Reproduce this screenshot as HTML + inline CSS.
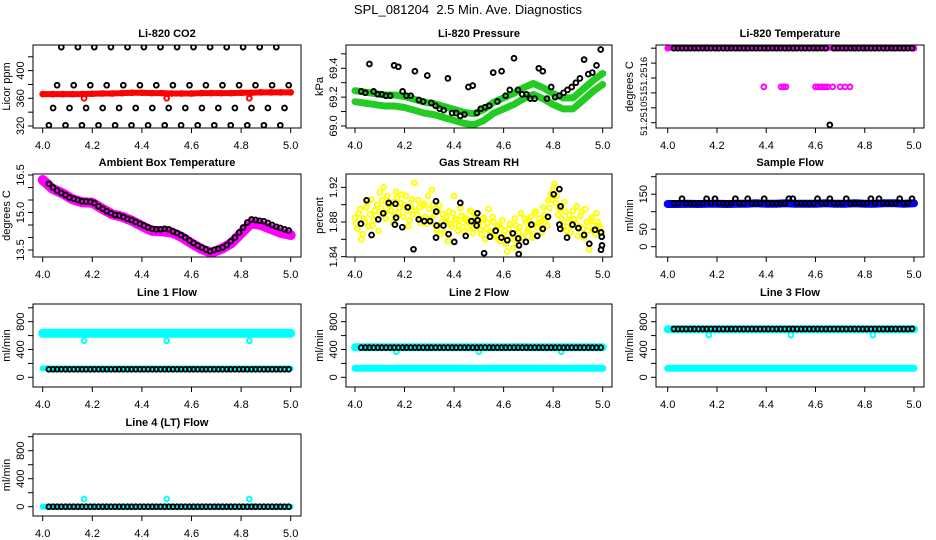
<!DOCTYPE html>
<html><head><meta charset="utf-8">
<style>
html,body{margin:0;padding:0;background:#fff;}
svg{display:block;font-family:"Liberation Sans",Arial,sans-serif;}
</style></head>
<body>
<svg id="chart" width="936" height="540" viewBox="0 0 936 540">
<text x="468" y="14" text-anchor="middle" font-size="13" style="white-space:pre">SPL_081204  2.5 Min. Ave. Diagnostics</text>
</svg>
<script>
// ---------- data ----------
const xTicks = [4.0, 4.2, 4.4, 4.6, 4.8, 5.0];
const xTickLabels = ["4.0", "4.2", "4.4", "4.6", "4.8", "5.0"];
const denseT = [4.0,4.04,4.08,4.12,4.16,4.2,4.24,4.28,4.32,4.36,4.4,4.44,4.48,4.52,4.56,4.6,4.64,4.68,4.72,4.76,4.8,4.84,4.88,4.92,4.96,5.0];
const blackT = [4.025,4.042,4.058,4.075,4.092,4.108,4.125,4.142,4.158,4.175,4.192,4.208,4.225,4.242,4.258,4.275,4.292,4.308,4.325,4.342,4.358,4.375,4.392,4.408,4.425,4.442,4.458,4.475,4.492,4.508,4.525,4.542,4.558,4.575,4.592,4.608,4.625,4.642,4.658,4.675,4.692,4.708,4.725,4.742,4.758,4.775,4.792,4.808,4.825,4.842,4.858,4.875,4.892,4.908,4.925,4.942,4.958,4.975,4.992];
const outT = [4.167, 4.5, 4.833];

// CO2
const co2Red = [366,366,366,366,366,366.5,367,367,367.5,368,368,367.5,367.5,367,367,367,367.5,367.5,367.5,367.5,368,368,368.5,368.5,368.5,368.5];
const co2RedOut = [360,360,360];
const co2Black = [321,346,379,434,321,346,379,434,321,346,379,434,321,346,379,434,321,346,379,434,321,346,379,434,321,346,379,434,321,346,379,434,321,346,379,434,321,346,379,434,321,346,379,434,321,346,379,434,321,346,379,434,321,346,379,434,321,346,379];
// Pressure
const presGreen = [69.21,69.2,69.19,69.18,69.18,69.17,69.15,69.13,69.12,69.1,69.08,69.06,69.05,69.08,69.13,69.16,69.19,69.23,69.26,69.23,69.19,69.16,69.16,69.22,69.28,69.33];
const presBlack = [69.24,69.23,69.43,69.24,69.22,69.22,69.21,69.21,69.42,69.41,69.24,69.21,69.21,69.38,69.18,69.17,69.35,69.16,69.14,69.12,69.11,69.33,69.09,69.09,69.07,69.08,69.27,69.28,69.09,69.12,69.13,69.14,69.37,69.17,69.38,69.21,69.25,69.47,69.25,69.22,69.22,69.19,69.19,69.4,69.38,69.19,69.27,69.2,69.21,69.23,69.25,69.27,69.3,69.33,69.46,69.36,69.37,69.42,69.53];
// Temperature
const tempMagenta = [51.252,51.252,51.252,51.252,51.252,51.252,51.252,51.252,51.252,51.252,51.252,51.252,51.252,51.252,51.252,51.252,51.252,51.252,51.252,51.252,51.252,51.252,51.252,51.252,51.252,51.252];
const tempLowT = [4.39,4.46,4.47,4.48,4.60,4.61,4.62,4.63,4.64,4.65,4.67,4.70,4.72,4.74];
const tempLowV = [51.25148,51.25148,51.25148,51.25148,51.25148,51.25148,51.25148,51.25148,51.25148,51.25148,51.25148,51.25148,51.25148,51.25148];
const tempBlack = [51.252,51.252,51.252,51.252,51.252,51.252,51.252,51.252,51.252,51.252,51.252,51.252,51.252,51.252,51.252,51.252,51.252,51.252,51.252,51.252,51.252,51.252,51.252,51.252,51.252,51.252,51.252,51.252,51.252,51.252,51.252,51.252,51.252,51.252,51.252,51.252,51.252,51.252,51.25097,51.252,51.252,51.252,51.252,51.252,51.252,51.252,51.252,51.252,51.252,51.252,51.252,51.252,51.252,51.252,51.252,51.252,51.252,51.252,51.252];
// Ambient
const ambMagenta = [16.3,15.95,15.77,15.53,15.41,15.39,15.15,14.93,14.83,14.67,14.46,14.27,14.25,14.2,14.02,13.77,13.54,13.39,13.54,13.77,14.17,14.57,14.5,14.34,14.19,14.1];
const ambBlack = [16.15,16.0,15.88,15.78,15.7,15.6,15.55,15.5,15.45,15.44,15.43,15.38,15.25,15.15,15.05,14.97,14.9,14.88,14.82,14.75,14.7,14.62,14.55,14.48,14.4,14.35,14.33,14.33,14.35,14.33,14.25,14.18,14.1,14.0,13.88,13.78,13.68,13.6,13.52,13.45,13.5,13.55,13.6,13.7,13.85,14.0,14.2,14.4,14.6,14.72,14.7,14.67,14.65,14.58,14.5,14.43,14.38,14.33,14.28];
// RH
const rhT = [4.00,4.01,4.02,4.03,4.04,4.05,4.06,4.07,4.08,4.09,4.10,4.11,4.12,4.13,4.14,4.15,4.16,4.17,4.18,4.19,4.20,4.21,4.22,4.23,4.24,4.25,4.26,4.27,4.28,4.29,4.30,4.31,4.32,4.33,4.34,4.35,4.36,4.37,4.38,4.39,4.40,4.41,4.42,4.43,4.44,4.45,4.46,4.47,4.48,4.49,4.50,4.51,4.52,4.53,4.54,4.55,4.56,4.57,4.58,4.59,4.60,4.61,4.62,4.63,4.64,4.65,4.66,4.67,4.68,4.69,4.70,4.71,4.72,4.73,4.74,4.75,4.76,4.77,4.78,4.79,4.80,4.81,4.82,4.83,4.84,4.85,4.86,4.87,4.88,4.89,4.90,4.91,4.92,4.93,4.94,4.95,4.96,4.97,4.98,4.99];
const rhYellowA = [1.885,1.872,1.895,1.866,1.880,1.902,1.889,1.876,1.893,1.900,1.914,1.905,1.891,1.910,1.898,1.903,1.887,1.908,1.896,1.912,1.900,1.893,1.882,1.906,1.925,1.889,1.897,1.884,1.901,1.878,1.895,1.917,1.888,1.871,1.899,1.880,1.868,1.885,1.892,1.875,1.910,1.883,1.876,1.887,1.869,1.884,1.880,1.892,1.874,1.889,1.878,1.866,1.885,1.872,1.895,1.869,1.880,1.862,1.876,1.873,1.865,1.855,1.872,1.861,1.850,1.876,1.868,1.890,1.862,1.880,1.872,1.886,1.866,1.892,1.878,1.880,1.897,1.884,1.905,1.912,1.918,1.902,1.888,1.897,1.875,1.892,1.880,1.868,1.893,1.879,1.864,1.887,1.873,1.895,1.870,1.882,1.876,1.866,1.880,1.872];
const rhYellowB = [1.878,1.890,1.860,1.884,1.897,1.875,1.906,1.882,1.888,1.870,1.896,1.920,1.884,1.900,1.893,1.880,1.915,1.891,1.902,1.886,1.910,1.875,1.898,1.889,1.893,1.905,1.879,1.899,1.886,1.910,1.884,1.900,1.876,1.893,1.866,1.889,1.881,1.858,1.878,1.890,1.883,1.870,1.896,1.879,1.885,1.873,1.893,1.867,1.886,1.879,1.871,1.883,1.860,1.879,1.868,1.886,1.864,1.875,1.858,1.882,1.870,1.846,1.878,1.866,1.884,1.858,1.874,1.862,1.884,1.869,1.880,1.862,1.890,1.874,1.884,1.868,1.888,1.876,1.896,1.906,1.924,1.910,1.895,1.884,1.903,1.870,1.888,1.876,1.883,1.898,1.875,1.892,1.862,1.880,1.848,1.885,1.870,1.890,1.876,1.868];
const rhBlackT = [4.024,4.047,4.067,4.094,4.114,4.136,4.163,4.166,4.161,4.191,4.213,4.236,4.257,4.280,4.303,4.327,4.328,4.330,4.327,4.357,4.378,4.401,4.425,4.447,4.470,4.494,4.495,4.491,4.521,4.545,4.568,4.591,4.615,4.637,4.659,4.662,4.661,4.690,4.712,4.736,4.758,4.779,4.802,4.825,4.830,4.825,4.829,4.856,4.878,4.902,4.925,4.946,4.969,4.993,4.996,4.997,4.993];
const rhBlackV = [1.878,1.905,1.865,1.883,1.890,1.902,1.901,1.885,1.877,1.874,1.897,1.8485,1.883,1.881,1.881,1.904,1.892,1.876,1.862,1.876,1.866,1.857,1.902,1.864,1.881,1.890,1.882,1.876,1.844,1.863,1.870,1.862,1.859,1.867,1.861,1.853,1.843,1.857,1.877,1.864,1.872,1.886,1.912,1.918,1.898,1.877,1.872,1.862,1.877,1.873,1.865,1.855,1.871,1.868,1.863,1.853,1.848];
// Sample flow
const sampleBlue = [122,122,123,122,123,123,122,123,123,124,123,123,124,123,123,123,124,123,123,124,123,123,124,124,123,124];
const sampleBlack = [124,124,137,124,124,124,124,124,137,124,137,124,124,124,124,137,124,124,137,124,124,124,137,124,124,124,124,124,137,137,124,124,124,124,124,137,124,124,137,124,124,124,137,124,124,124,124,124,137,124,137,124,124,124,124,137,124,124,137];
// Line flows
const line1Upper = [633,633,635,633,633,633,633,633,633,633,633,633,633,633,633,633,633,633,633,633,633,633,633,633,633,633];
const line1Lower = [128,128,128,128,128,128,128,128,128,128,128,128,128,128,128,128,128,128,128,128,128,128,128,128,128,128];
const line1Out = [527,527,527];
const line1Black = [115,115,115,115,115,115,115,115,115,115,115,115,115,115,115,115,115,115,115,115,115,115,115,115,115,115,115,115,115,115,115,115,115,115,115,115,115,115,115,115,115,115,115,115,115,115,115,115,115,115,115,115,115,115,115,115,115,115,115];
const line2Upper = [432,432,435,432,432,432,432,432,432,432,432,432,432,432,432,432,435,435,432,432,432,432,432,432,432,432];
const line2Lower = [130,130,130,130,130,130,130,130,130,130,130,130,130,130,130,130,130,130,130,130,130,130,130,130,130,130];
const line2Out = [368,368,368];
const line2Black = [428,428,428,428,428,428,428,428,428,428,428,428,428,428,428,428,428,428,428,428,428,428,428,428,428,428,428,428,428,428,428,428,428,428,428,428,428,428,428,428,428,428,428,428,428,428,428,428,428,428,428,428,428,428,428,428,428,428,428];
const line3Upper = [690,690,692,692,692,692,692,692,692,692,692,692,692,692,692,692,692,692,692,692,692,692,692,692,692,692];
const line3Lower = [130,130,130,130,130,130,130,130,130,130,130,130,130,130,130,130,130,130,130,130,130,130,130,130,130,130];
const line3Out = [608,608,608];
const line3Black = [695,695,695,695,695,695,695,695,695,695,695,695,695,695,695,695,695,695,695,695,695,695,695,695,695,695,695,695,695,695,695,695,695,695,695,695,695,695,695,695,695,695,695,695,695,695,695,695,695,695,695,695,695,695,695,695,695,695,698];
const line4Cyan = [0,0,0,0,0,0,0,0,0,0,0,0,0,0,0,0,0,0,0,0,0,0,0,0,0,0];
const line4Out = [110,110,110];
const line4Black = [0,0,0,0,0,0,0,0,0,0,0,0,0,0,0,0,0,0,0,0,0,0,0,0,0,0,0,0,0,0,0,0,0,0,0,0,0,0,0,0,0,0,0,0,0,0,0,0,0,0,0,0,0,0,0,0,0,0,0];

// ---------- drawing ----------
const NS = "http://www.w3.org/2000/svg";
const svg = document.getElementById("chart");
const COLS = [{l:33,r:301,x0:42.7,x1:290.7},{l:346,r:612,x0:355,x1:602.7},{l:656,r:924,x0:667.7,x1:914}];
const ROWS = [{t:45,b:128},{t:174,b:257},{t:304,b:387},{t:434,b:516}];

function mk(tag, attrs, parent) {
  const e = document.createElementNS(NS, tag);
  for (const k in attrs) e.setAttribute(k, attrs[k]);
  (parent || svg).appendChild(e);
  return e;
}

function makePanel(name, col, row, title, ylab, yLo, yHi, yTicks, yLabels, labelShift, labelSize) {
  const c = COLS[col], r = ROWS[row];
  const g = mk("g", {});
  
  
  const sx = v => c.x0 + (v - 4) * (c.x1 - c.x0);
  const sy = v => r.b - (v - yLo) / (yHi - yLo) * (r.b - r.t);
  const clipId = "clip-" + name;
  const cp = mk("clipPath", {id: clipId}, g);
  mk("rect", {x: c.l, y: r.t, width: c.r - c.l, height: r.b - r.t}, cp);
  const plot = mk("g", {"clip-path": "url(#" + clipId + ")"}, g);
  
  
  const box = mk("rect", {x: c.l, y: r.t, width: c.r - c.l, height: r.b - r.t, fill: "none", stroke: "#000", "stroke-width": 1}, g);
  
  
  const t = mk("text", {x: (c.l + c.r) / 2, y: r.t - 8, "text-anchor": "middle", "font-size": 11, "font-weight": "bold"}, g);
  t.textContent = title;
  
  
  const yl = mk("text", {x: 0, y: 0, transform: "translate(" + (c.l - 23) + "," + ((r.t + r.b) / 2) + ") rotate(-90)", "text-anchor": "middle", "font-size": 11}, g);
  yl.textContent = ylab;
  
  
  const xa = mk("g", {}, g);
  
  
  xTicks.forEach((v, i) => {
    const x = sx(v);
    mk("line", {x1: x, x2: x, y1: r.b, y2: r.b + 5, stroke: "#000"}, xa);
    const tl = mk("text", {x: x, y: r.b + 21, "text-anchor": "middle", "font-size": 11}, xa);
    tl.textContent = xTickLabels[i];
    
    
  });
  const ya = mk("g", {}, g);
  
  
  yTicks.forEach((v, i) => {
    const y = sy(v);
    mk("line", {x1: c.l - 5, x2: c.l, y1: y, y2: y, stroke: "#000"}, ya);
    if (yLabels[i]) {
      const ly = y + (labelShift ? labelShift[i] : 0);
      const tl = mk("text", {x: 0, y: 0, transform: "translate(" + (c.l - 9) + "," + ly + ") rotate(-90)", "text-anchor": "middle", "font-size": labelSize || 11}, ya);
      tl.textContent = yLabels[i];
      
      
    }
  });
  return {plot, sx, sy, name};
}

function band(p, ts, vs, color, width, offPx) {
  const pts = ts.map((t, i) => p.sx(t).toFixed(1) + "," + (p.sy(vs[i]) + (offPx || 0)).toFixed(1)).join(" ");
  const pl = mk("polyline", {points: pts, fill: "none", stroke: color, "stroke-width": width, "stroke-linejoin": "round", "stroke-linecap": "round"}, p.plot);
  
  
}
function points(p, ts, vs, color, label) {
  const g = mk("g", {fill: "none", stroke: color, "stroke-width": 1.9}, p.plot);
  
  
  ts.forEach((t, i) => {
    const c = mk("circle", {cx: p.sx(t).toFixed(1), cy: p.sy(vs[i]).toFixed(1), r: 2.4}, g);
    
    
  });
}

const RED = "#ff0000", GREEN = "#22cc22", MAG = "#ff00ff", YEL = "#ffff00", BLUE = "#0000ff", CYAN = "#00ffff", BLK = "#000";

let p = makePanel("co2", 0, 0, "Li-820 CO2", "Licor ppm", 317.1, 437, [320,340,360,380,400,420], ["320","","360","","400",""]);
band(p, denseT, co2Red, RED, 6);
points(p, denseT, co2Red, RED, "red-points");
points(p, outT, co2RedOut, RED, "red-outliers");
points(p, blackT, co2Black, BLK, "black-points");

p = makePanel("pressure", 1, 0, "Li-820 Pressure", "kPa", 68.986, 69.5615, [69.0,69.1,69.2,69.3,69.4,69.5], ["69.0","","69.2","","69.4",""]);
band(p, denseT, presGreen, GREEN, 7, -5);
band(p, denseT, presGreen, GREEN, 7, 6);
points(p, blackT, presBlack, BLK, "black-points");

p = makePanel("temperature", 2, 0, "Li-820 Temperature", "degrees C", 51.250929, 51.252043, [51.2510,51.2512,51.2514,51.2516,51.2518,51.2520], ["51.2510","","51","51.2516","",""], [-4,0,3,-4,0,0], 9.5);
band(p, denseT, tempMagenta, MAG, 5);
points(p, denseT, tempMagenta, MAG, "magenta-points");
points(p, tempLowT, tempLowV, MAG, "magenta-low-points");
points(p, blackT, tempBlack, BLK, "black-points");

p = makePanel("ambient", 0, 1, "Ambient Box Temperature", "degrees C", 13.22, 16.54, [13.5,14.0,14.5,15.0,15.5,16.0,16.5], ["13.5","","","15.0","","","16.5"]);
band(p, denseT, ambMagenta, MAG, 10);
points(p, blackT, ambBlack, BLK, "black-points");

p = makePanel("rh", 1, 1, "Gas Stream RH", "percent", 1.8396, 1.9354, [1.84,1.86,1.88,1.90,1.92], ["1.84","","1.88","","1.92"]);
points(p, rhT, rhYellowA, YEL, "yellow-points-a");
points(p, rhT.map(t => t + 0.005), rhYellowB, YEL, "yellow-points-b");
points(p, rhBlackT, rhBlackV, BLK, "black-points");

p = makePanel("sample-flow", 2, 1, "Sample Flow", "ml/min", -29.4, 207.7, [0,50,100,150,200], ["0","50","","150",""]);
band(p, denseT, sampleBlue, BLUE, 8);
points(p, blackT, sampleBlack, BLK, "black-points");

const flowTicks = [0,200,400,600,800,1000], flowLabels = ["0","","400","","800",""];
p = makePanel("line1-flow", 0, 2, "Line 1 Flow", "ml/min", -139.6, 1054.7, flowTicks, flowLabels);
band(p, denseT, line1Upper, CYAN, 9);
band(p, denseT, line1Lower, CYAN, 6);
points(p, outT, line1Out, CYAN, "cyan-outliers");
points(p, blackT, line1Black, BLK, "black-points");

p = makePanel("line2-flow", 1, 2, "Line 2 Flow", "ml/min", -139.6, 1054.7, flowTicks, flowLabels);
band(p, denseT, line2Upper, CYAN, 8);
band(p, denseT, line2Lower, CYAN, 7);
points(p, outT, line2Out, CYAN, "cyan-outliers");
points(p, blackT, line2Black, BLK, "black-points");

p = makePanel("line3-flow", 2, 2, "Line 3 Flow", "ml/min", -139.6, 1054.7, flowTicks, flowLabels);
band(p, denseT, line3Upper, CYAN, 8);
band(p, denseT, line3Lower, CYAN, 7);
points(p, outT, line3Out, CYAN, "cyan-outliers");
points(p, blackT, line3Black, BLK, "black-points");

p = makePanel("line4-flow", 0, 3, "Line 4 (LT) Flow", "ml/min", -132.9, 1038.6, flowTicks, flowLabels);
band(p, denseT, line4Cyan, CYAN, 6);
points(p, outT, line4Out, CYAN, "cyan-outliers");
points(p, blackT, line4Black, BLK, "black-points");
</script>
</body></html>
